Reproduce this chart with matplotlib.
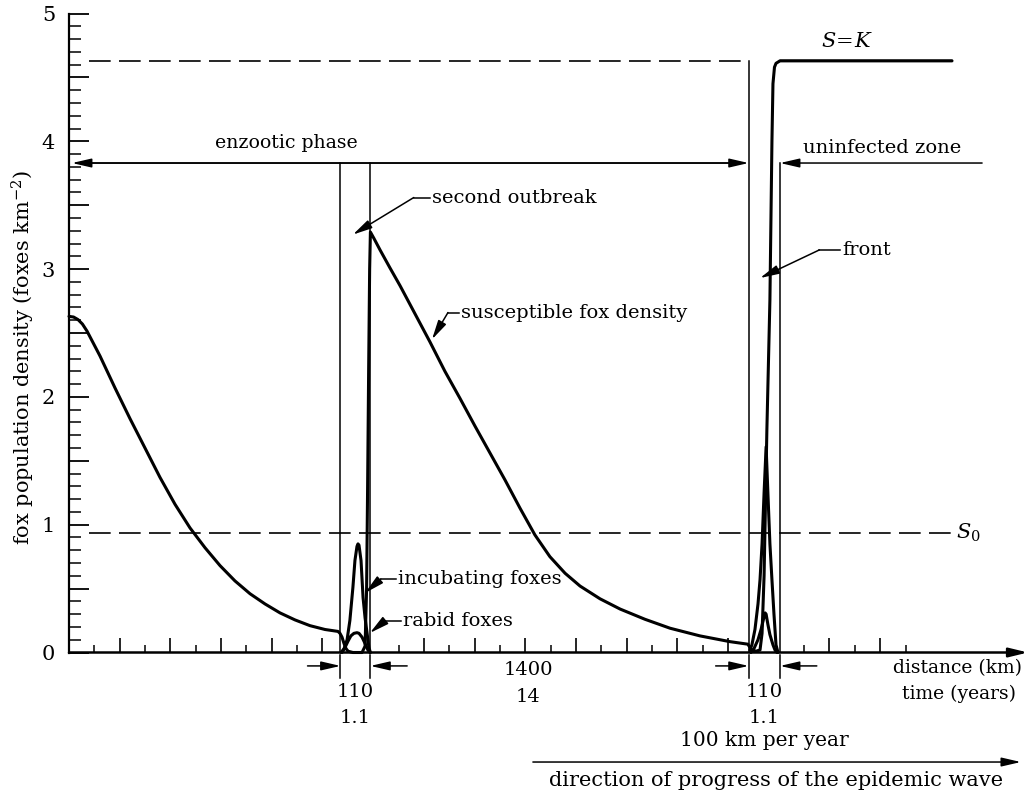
import numpy as np
import matplotlib
matplotlib.use('Agg')
import matplotlib.pyplot as plt
from matplotlib.ticker import MultipleLocator, FuncFormatter

plt.rcParams['font.family'] = 'DejaVu Serif'
plt.rcParams['mathtext.fontset'] = 'dejavuserif'

# x is measured in tick steps along the (schematic, broken) distance axis
# susceptible fox density S
s_x = [0.00, 0.18, 0.355, 0.53, 0.71, 0.96, 1.223, 1.815, 2.406, 2.998, 3.590, 4.181, 4.773, 5.365,
       5.957, 6.548, 7.140, 7.732, 8.323, 8.915, 9.507, 10.099, 10.611, 10.69, 10.77,
       10.85, 10.93, 11.01, 11.20, 11.56, 11.68, 11.74, 11.78, 11.82, 11.86, 11.89,
       12.03, 12.27, 12.66, 13.06, 13.65, 14.24, 14.83, 15.42, 16.02, 16.61, 17.20, 17.79,
       18.38, 18.97, 19.57, 20.16, 20.95, 21.74, 22.72, 23.71, 24.89, 26.07, 26.78,
       26.86, 26.94, 27.10, 27.26, 27.34, 27.42, 27.53, 27.65, 27.73, 27.77, 27.83, 27.89,
       28.05, 28.13, 34.83]
s_y = [2.63, 2.625, 2.605, 2.57, 2.515, 2.42, 2.32, 2.07, 1.83, 1.60, 1.37, 1.16, 0.975, 0.82,
       0.68, 0.56, 0.46, 0.38, 0.31, 0.255, 0.21, 0.18, 0.165, 0.15, 0.12,
       0.07, 0.03, 0.01, 0.0, 0.0, 0.05, 0.5, 1.3, 2.2, 3.0, 3.29,
       3.24, 3.15, 3.01, 2.87, 2.65, 2.43, 2.20, 1.99, 1.77, 1.56, 1.35, 1.13,
       0.92, 0.75, 0.62, 0.52, 0.42, 0.34, 0.26, 0.19, 0.13, 0.085, 0.065,
       0.04, 0.02, 0.01, 0.02, 0.15, 0.6, 1.74, 2.76, 4.0, 4.45, 4.58, 4.61,
       4.63, 4.63, 4.63]

# incubating foxes, second outbreak and front
inc1_x = [10.73, 10.85, 10.97, 11.08, 11.20, 11.28, 11.36, 11.40, 11.44, 11.52, 11.60, 11.68, 11.76, 11.83, 11.89]
inc1_y = [0.0, 0.03, 0.10, 0.25, 0.51, 0.72, 0.83, 0.85, 0.84, 0.72, 0.43, 0.27, 0.15, 0.04, 0.0]
inc2_x = [26.86, 26.94, 27.06, 27.18, 27.26, 27.34, 27.42, 27.50, 27.57, 27.65, 27.73, 27.81, 27.89, 27.97]
inc2_y = [0.02, 0.06, 0.18, 0.38, 0.57, 0.85, 1.25, 1.61, 1.25, 0.85, 0.57, 0.30, 0.06, 0.0]

# rabid foxes
rab1_x = [10.77, 10.89, 11.01, 11.12, 11.24, 11.36, 11.44, 11.56, 11.68, 11.79, 11.87]
rab1_y = [0.0, 0.04, 0.09, 0.13, 0.15, 0.155, 0.15, 0.12, 0.07, 0.02, 0.0]
rab2_x = [26.90, 27.02, 27.18, 27.30, 27.42, 27.46, 27.50, 27.57, 27.65, 27.77, 27.85, 27.93]
rab2_y = [0.0, 0.03, 0.10, 0.18, 0.28, 0.31, 0.30, 0.22, 0.14, 0.06, 0.02, 0.0]

K = 4.63
S0 = 0.935
band_left = [10.71, 26.81]
band_right = [11.89, 28.05]
band_km = ['110', '110']
band_yr = ['1.1', '1.1']
gap_km, gap_yr = '1400', '14'
phase_y = 3.83
x_end = 37.91

tick_pos = [i for i in range(1, 34) if i not in (11, 12, 27, 28)]

AST = '-|>,head_length=0.65,head_width=0.15'
FS = 14


def arrow(ax, tail, tip, lw=1.1, style=AST, ms=18):
    ax.annotate('', xy=tip, xytext=tail, annotation_clip=False,
                arrowprops=dict(arrowstyle=style, color='k', lw=lw, shrinkA=0, shrinkB=0,
                                mutation_scale=ms))


def leader(ax, text, tx, ty, elbow_x, tip):
    ax.text(tx, ty, text, ha='left', va='center', fontsize=FS)
    ax.plot([tx - 0.08, elbow_x], [ty, ty], 'k', lw=1.1, clip_on=False)
    arrow(ax, (elbow_x, ty), tip)


fig = plt.figure(figsize=(10.36, 8.02), dpi=100)
ax = fig.add_axes([69 / 1036, (802 - 652.5) / 802, (1030 - 69) / 1036, 639 / 802])
ax.set_xlim(0, x_end)
ax.set_ylim(0, 5)

for sp in ['top', 'right', 'bottom']:
    ax.spines[sp].set_visible(False)
ax.spines['left'].set_linewidth(1.6)

ax.set_yticks(np.arange(0, 5.01, 0.5))
ax.yaxis.set_minor_locator(MultipleLocator(0.1))
ax.yaxis.set_major_formatter(FuncFormatter(
    lambda v, p: '%d' % round(v) if abs(v - round(v)) < 1e-6 else ''))
ax.tick_params(axis='y', which='major', direction='in', length=14.5, width=1.3, labelsize=15, pad=10)
ax.tick_params(axis='y', which='minor', direction='in', length=8.5, width=1.1)
ax.set_xticks([t for t in tick_pos if t % 2 == 0])
ax.set_xticks([t for t in tick_pos if t % 2 == 1], minor=True)
ax.tick_params(axis='x', which='major', direction='in', length=10.5, width=1.2, labelbottom=False)
ax.tick_params(axis='x', which='minor', direction='in', length=5.8, width=1.1)

# x axis with arrow
arrow(ax, (0, 0), (37.83, 0), lw=1.8, style='-|>,head_length=0.7,head_width=0.17', ms=16)

# curves
for xs, ys in [(s_x, s_y), (inc1_x, inc1_y), (inc2_x, inc2_y), (rab1_x, rab1_y), (rab2_x, rab2_y)]:
    ax.plot(xs, ys, 'k', lw=2.2, solid_joinstyle='round', solid_capstyle='round', clip_on=False)

# dashed reference levels
ax.plot([0.8, band_left[1]], [K, K], 'k', lw=1.2, dashes=(13, 5))
ax.plot([0.8, 34.83], [S0, S0], 'k', lw=1.2, dashes=(13, 5))
ax.plot([28.1, 34.83], [K, K], 'k', lw=1.6)

# band boundaries
ax.plot([band_left[0]] * 2, [0, phase_y], 'k', lw=1.1)
ax.plot([band_right[0]] * 2, [0, phase_y], 'k', lw=1.1)
ax.plot([band_left[1]] * 2, [0, K], 'k', lw=1.1)
ax.plot([band_right[1]] * 2, [0, phase_y], 'k', lw=1.1)

# enzootic phase / uninfected zone
arrow(ax, (band_left[1] - 0.5, phase_y), (0.12, phase_y))
arrow(ax, (0.5, phase_y), (band_left[1], phase_y))
arrow(ax, (36.02, phase_y), (band_right[1], phase_y))
ax.text(8.56, 3.99, 'enzootic phase', ha='center', va='center', fontsize=13.6)
ax.text(32.07, 3.95, 'uninfected zone', ha='center', va='center', fontsize=FS)
ax.text(30.69, 4.78, '$S\\!=\\!K$', ha='center', va='center', fontsize=15)
ax.text(35.0, S0, '$S_{0}$', ha='left', va='center', fontsize=15)

# labels with leader arrows
leader(ax, 'second outbreak', 14.32, 3.56, 13.6, (11.20, 3.27))
leader(ax, 'front', 30.49, 3.15, 29.6, (27.26, 2.93))
leader(ax, 'susceptible fox density', 15.45, 2.66, 14.95, (14.32, 2.45))
leader(ax, 'incubating foxes', 12.98, 0.575, 12.3, (11.68, 0.466))
leader(ax, 'rabid foxes', 13.18, 0.246, 12.45, (11.87, 0.153))

# widths of the bands below the axis
ya = -0.105
for bl, br, km, yr in zip(band_left, band_right, band_km, band_yr):
    ax.plot([bl, bl], [-0.02, -0.2], 'k', lw=1.1, clip_on=False)
    ax.plot([br, br], [-0.02, -0.2], 'k', lw=1.1, clip_on=False)
    arrow(ax, (bl - 1.3, ya), (bl, ya))
    arrow(ax, (br + 1.45, ya), (br, ya))
    ax.text((bl + br) / 2, -0.31, km, ha='center', va='center', fontsize=FS, clip_on=False)
    ax.text((bl + br) / 2, -0.51, yr, ha='center', va='center', fontsize=FS, clip_on=False)
ax.text(18.11, -0.137, gap_km, ha='center', va='center', fontsize=FS)
ax.text(18.11, -0.35, gap_yr, ha='center', va='center', fontsize=FS)
ax.text(32.5, -0.12, 'distance (km)', ha='left', va='center', fontsize=13.5)
ax.text(32.86, -0.32, 'time (years)', ha='left', va='center', fontsize=13.5)

ax.text(27.42, -0.69, '100 km per year', ha='center', va='center', fontsize=14.5)
arrow(ax, (18.30, -0.857), (37.55, -0.857), lw=1.1)
ax.text(27.89, -1.0, 'direction of progress of the epidemic wave', ha='center', va='center', fontsize=15)

fig.text(23 / 1036, 1 - 358 / 802, 'fox population density (foxes km$^{-2}$)',
         rotation=90, ha='center', va='center', fontsize=15)

fig.savefig('out.png', dpi=100)
plt.close('all')
